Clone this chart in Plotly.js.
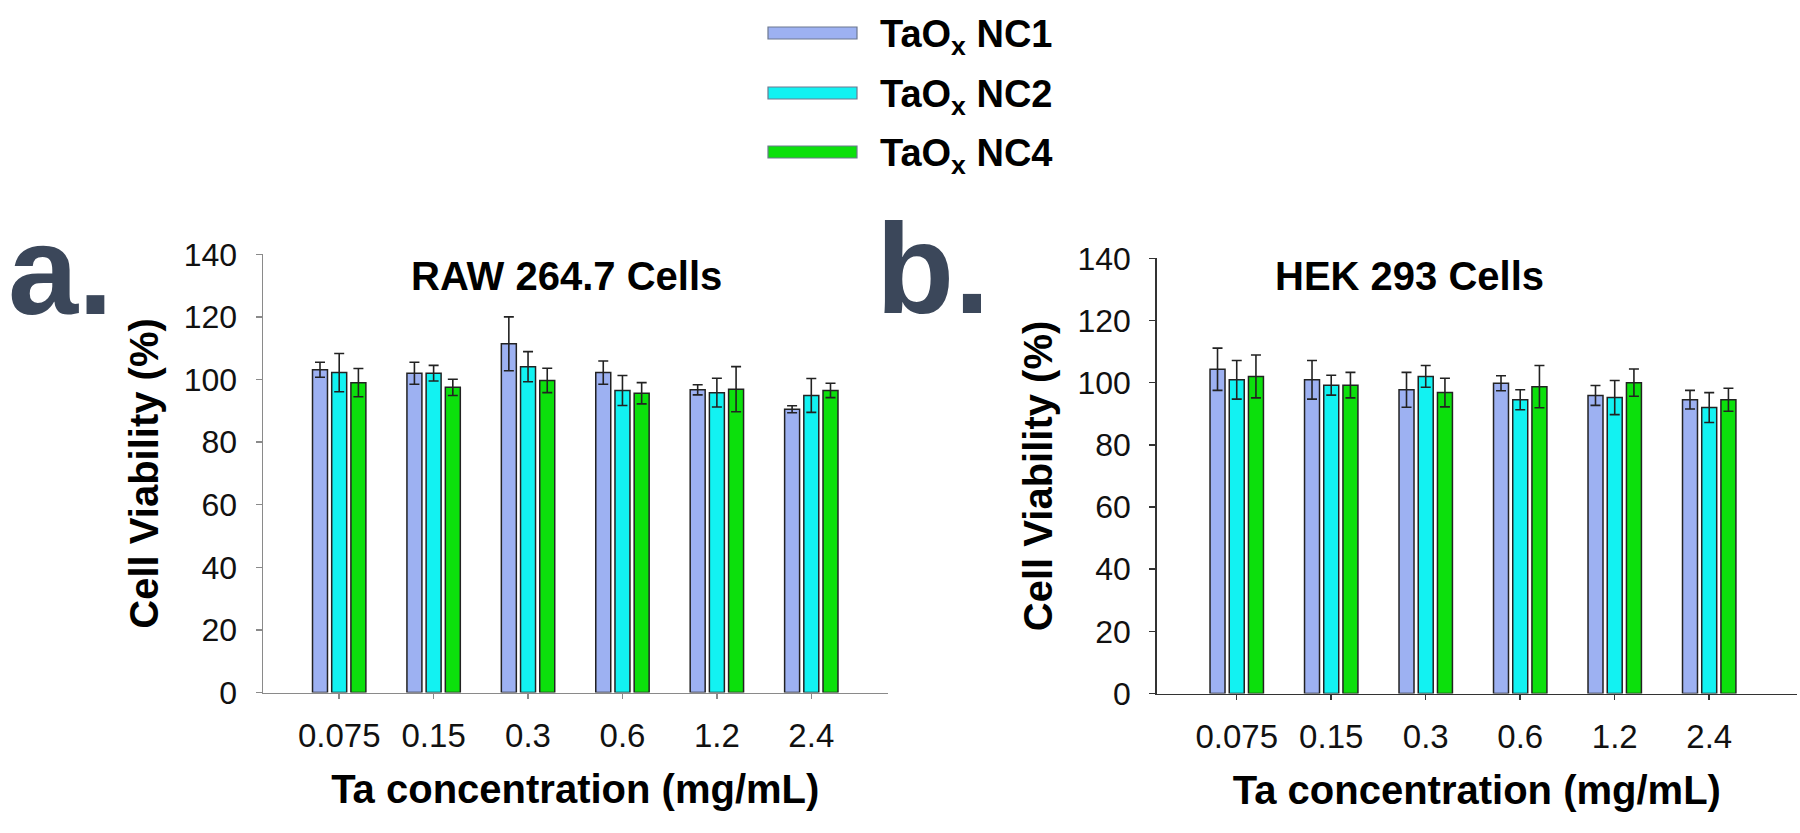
<!DOCTYPE html>
<html>
<head>
<meta charset="utf-8">
<script src="https://cdn.plot.ly/plotly-3.0.1.min.js"></script>
<style>
html,body{margin:0;padding:0;background:#fff;}
#chart{width:1800px;height:833px;}
</style>
</head>
<body>
<div id="chart"></div>
<script>
// ---- data ----
const categories = ['0.075', '0.15', '0.3', '0.6', '1.2', '2.4'];
const seriesNames = ['TaO<sub>x</sub> NC1', 'TaO<sub>x</sub> NC2', 'TaO<sub>x</sub> NC4'];
const seriesColors = ['#9DB1F2', '#12F2F2', '#0CE00C'];

const rawNC1 = [103.1, 102.0, 111.4, 102.2, 96.7, 90.5];
const rawNC1Err = [2.4, 3.5, 8.6, 3.7, 1.6, 1.1];
const rawNC2 = [102.2, 102.0, 104.1, 96.5, 95.8, 94.9];
const rawNC2Err = [6.1, 2.5, 4.8, 4.8, 4.6, 5.4];
const rawNC4 = [99.0, 97.5, 99.7, 95.6, 96.9, 96.5];
const rawNC4Err = [4.5, 2.6, 3.9, 3.4, 7.2, 2.3];

const hekNC1 = [104.3, 100.9, 97.7, 99.8, 95.9, 94.5];
const hekNC1Err = [6.8, 6.2, 5.6, 2.4, 3.2, 3.0];
const hekNC2 = [100.9, 99.2, 102.0, 94.5, 95.2, 92.0];
const hekNC2Err = [6.2, 3.2, 3.5, 3.2, 5.5, 4.8];
const hekNC4 = [102.0, 99.2, 96.8, 98.7, 100.0, 94.5];
const hekNC4Err = [6.9, 4.1, 4.6, 6.8, 4.4, 3.7];

const yTickVals = [0, 20, 40, 60, 80, 100, 120, 140];

// ---- layout helpers ----
const W = 1800, H = 833;
const px = v => v / W;
const py = v => (H - v) / H;
const FONT = 'Liberation Sans, Arial, Helvetica, sans-serif';

function mkBar(name, y, err, color, xa, ya) {
  return {
    type: 'bar', name: name, x: categories, y: y,
    xaxis: xa, yaxis: ya, showlegend: false,
    marker: {color: color, line: {color: '#222', width: 1.5}},
    error_y: {type: 'data', array: err, visible: true, color: '#222', thickness: 1.6, width: 5}
  };
}

const rawSets = [[rawNC1, rawNC1Err], [rawNC2, rawNC2Err], [rawNC4, rawNC4Err]];
const hekSets = [[hekNC1, hekNC1Err], [hekNC2, hekNC2Err], [hekNC4, hekNC4Err]];
const data = [];
rawSets.forEach((s, i) => data.push(mkBar(seriesNames[i], s[0], s[1], seriesColors[i], 'x', 'y')));
hekSets.forEach((s, i) => data.push(mkBar(seriesNames[i], s[0], s[1], seriesColors[i], 'x2', 'y2')));

function xAxis(domain, range, lineColor) {
  return {
    domain: domain, range: range, type: 'category',
    showline: true, linecolor: lineColor, linewidth: 1.5,
    ticks: 'outside', ticklen: 5, tickcolor: lineColor, tickwidth: 1.5,
    ticklabelstandoff: 8,
    tickfont: {family: FONT, size: 33, color: '#111'},
    showgrid: false, zeroline: false, fixedrange: true,
    title: {text: 'Ta concentration (mg/mL)', font: {family: FONT, size: 40, color: '#000', weight: 'bold'}, standoff: 22}
  };
}
function yAxis(domain, lineColor, anchor) {
  return {
    domain: domain, range: [0, 140], anchor: anchor,
    tickvals: yTickVals, ticktext: yTickVals.map(String),
    showline: true, linecolor: lineColor, linewidth: 1.5,
    ticks: 'outside', ticklen: 6, tickcolor: lineColor, tickwidth: 1.5,
    ticklabelstandoff: 12,
    tickfont: {family: FONT, size: 32, color: '#111'},
    showgrid: false, zeroline: false, fixedrange: true,
    title: {text: 'Cell Viability (%)', font: {family: FONT, size: 40, color: '#000', weight: 'bold'}, standoff: 12}
  };
}

const legendRows = [33, 93, 152];
const shapes = [];
const annotations = [];
seriesNames.forEach((n, i) => {
  shapes.push({type: 'rect', xref: 'paper', yref: 'paper',
    x0: px(768), x1: px(857), y0: py(legendRows[i] + 6), y1: py(legendRows[i] - 6),
    fillcolor: seriesColors[i], line: {color: '#6d7890', width: 1.2}});
  annotations.push({xref: 'paper', yref: 'paper', x: px(878), y: py(legendRows[i] + 4),
    xanchor: 'left', yanchor: 'middle', showarrow: false, text: '<b>' + n + '</b>',
    font: {family: FONT, size: 38, color: '#000'}});
});
annotations.push({xref: 'paper', yref: 'paper', x: px(566), y: py(276), xanchor: 'center', yanchor: 'middle',
  showarrow: false, text: '<b>RAW 264.7 Cells</b>', font: {family: FONT, size: 40, color: '#000'}});
annotations.push({xref: 'paper', yref: 'paper', x: px(1409), y: py(276), xanchor: 'center', yanchor: 'middle',
  showarrow: false, text: '<b>HEK 293 Cells</b>', font: {family: FONT, size: 40, color: '#000'}});
annotations.push({xref: 'paper', yref: 'paper', x: px(6), y: py(270), xanchor: 'left', yanchor: 'middle',
  showarrow: false, text: '<b>a.</b>', font: {family: FONT, size: 126, color: '#3B475A'}});
annotations.push({xref: 'paper', yref: 'paper', x: px(874), y: py(268), xanchor: 'left', yanchor: 'middle',
  showarrow: false, text: '<b>b.</b>', font: {family: FONT, size: 128, color: '#3B475A'}});

const layout = {
  width: W, height: H,
  margin: {l: 0, r: 0, t: 0, b: 0},
  paper_bgcolor: '#fff', plot_bgcolor: '#fff',
  barmode: 'group', bargap: 0.39, bargroupgap: 0.22,
  showlegend: false,
  font: {family: FONT, color: '#000'},
  xaxis: xAxis([px(263), px(887.5)], [-0.807, 5.807], '#8a8a8a'),
  yaxis: yAxis([py(692.5), py(254.3)], '#8a8a8a', 'x'),
  xaxis2: Object.assign(xAxis([px(1156.7), px(1797)], [-0.847, 5.929], '#333'), {anchor: 'y2'}),
  yaxis2: yAxis([py(693.5), py(258.3)], '#333', 'x2'),
  shapes: shapes,
  annotations: annotations
};
layout.xaxis.anchor = 'y';

Plotly.newPlot('chart', data, layout, {displayModeBar: false, staticPlot: true});
</script>
</body>
</html>
